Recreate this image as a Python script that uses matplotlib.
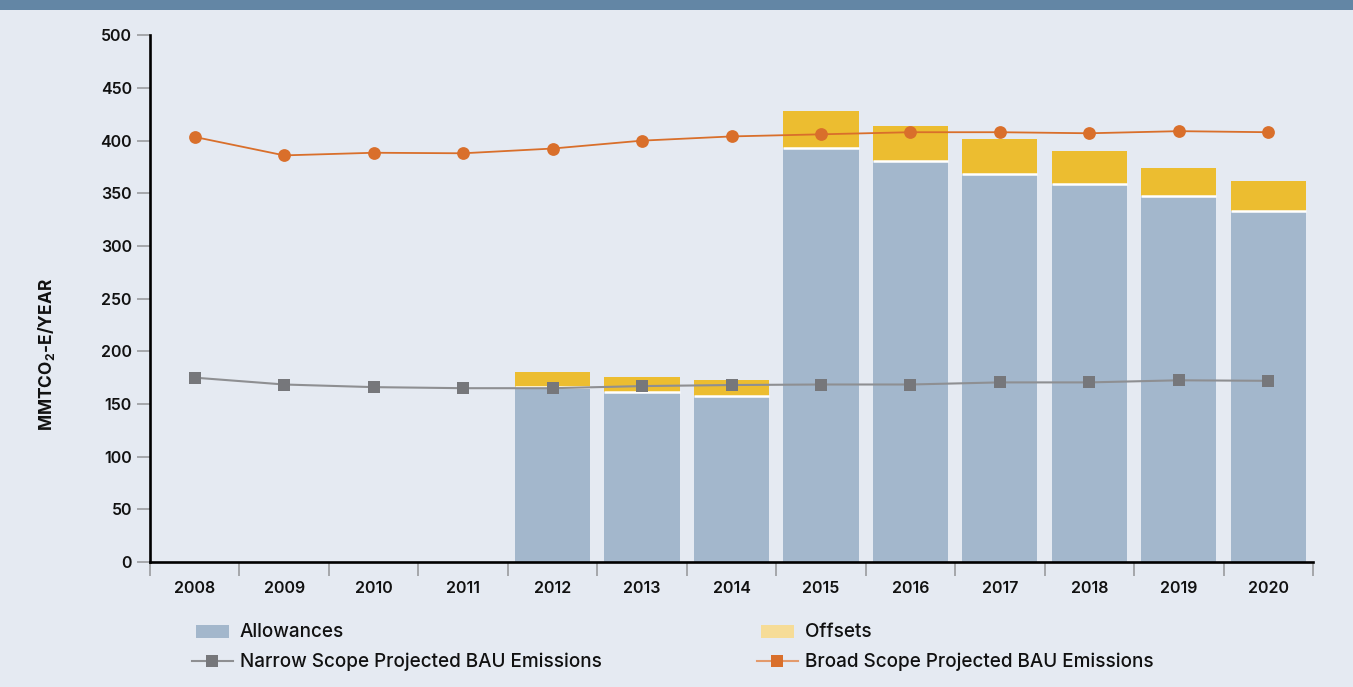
import matplotlib
matplotlib.use("Agg")
import matplotlib.pyplot as plt
import numpy as np
from matplotlib.patches import Rectangle, Patch
from matplotlib.lines import Line2D
from matplotlib.legend_handler import HandlerPatch

# ---- data -------------------------------------------------------------
years = ["2008", "2009", "2010", "2011", "2012", "2013", "2014",
         "2015", "2016", "2017", "2018", "2019", "2020"]
allowances = [0, 0, 0, 0, 166, 161, 158, 393, 381, 368, 359, 347, 333]
offsets = [0, 0, 0, 0, 14.5, 15, 15, 35, 33, 34, 31, 27.5, 28.5]
narrow_bau = [175, 168.5, 166, 165, 165, 167, 168, 168.5, 168.5, 170.5, 170.5, 172.5, 172]
broad_bau = [403.5, 386, 388.5, 388, 392.5, 400, 404, 406, 408, 408, 407, 409, 408]
yticks = [0, 50, 100, 150, 200, 250, 300, 350, 400, 450, 500]

# ---- style ------------------------------------------------------------
BG = "#e5eaf2"
HEADER = "#6386a5"
C_ALLOW = "#a3b7cc"
C_OFFSET = "#ecbd30"
C_OFFSET_KEY = "#f6dc97"
C_ORANGE = "#d96f2b"
C_ORANGE_LINE = "#e39a6c"
C_GRAY = "#76777b"
C_GRAY_LINE = "#8e8f92"
TICK_GRAY = "#9a9b9e"

FONT = ["Inter", "DejaVu Sans"]
plt.rcParams["font.family"] = FONT
plt.rcParams["mathtext.fontset"] = "custom"
plt.rcParams["mathtext.rm"] = "Inter:bold"
plt.rcParams["mathtext.bf"] = "Inter:bold"

W, H = 1353, 687
fig = plt.figure(figsize=(W / 100, H / 100), dpi=100)
fig.patch.set_facecolor(BG)

# header band along the top edge
fig.add_artist(Rectangle((0, 1 - 10 / H), 1, 10 / H, transform=fig.transFigure,
                         facecolor=HEADER, edgecolor="none", zorder=0))

ax = fig.add_axes([150 / W, 1 - 562 / H, (1313 - 150) / W, (562 - 35.3) / H])
ax.set_facecolor(BG)

x = np.arange(len(years))
bar_w = 0.84
ax.bar(x, allowances, width=bar_w, color=C_ALLOW, linewidth=0, zorder=2)
ax.bar(x, offsets, width=bar_w, bottom=allowances, color=C_OFFSET,
       linewidth=0, zorder=2)
# thin white seam where the offsets sit on the allowances
stacked = [i for i, v in enumerate(offsets) if v > 0]
ax.hlines([allowances[i] for i in stacked],
          [x[i] - bar_w / 2 for i in stacked],
          [x[i] + bar_w / 2 for i in stacked],
          colors="white", linewidth=1.8, zorder=3)

ax.plot(x, broad_bau, color=C_ORANGE, linewidth=1.3, marker="o",
        markersize=9.2, markerfacecolor=C_ORANGE, markeredgewidth=0, zorder=4)
ax.plot(x, narrow_bau, color=C_GRAY_LINE, linewidth=1.5, marker="s",
        markersize=9.2, markerfacecolor=C_GRAY, markeredgewidth=0, zorder=4)

ax.set_xlim(-0.5, len(years) - 0.5)
ax.set_ylim(0, 500)

for side in ("top", "right"):
    ax.spines[side].set_visible(False)
for side in ("left", "bottom"):
    ax.spines[side].set_color("black")
    ax.spines[side].set_linewidth(1.9)
    ax.spines[side].set_zorder(5)

ax.set_yticks(yticks)
ax.tick_params(axis="y", length=9.5, width=1.2, color=TICK_GRAY, pad=3.5,
               labelsize=11.5)
ax.set_xticks(x)
ax.set_xticklabels(years)
ax.set_xticks(np.arange(-0.5, len(years)), minor=True)
ax.tick_params(axis="x", which="major", length=0, pad=13.5, labelsize=11.5)
ax.tick_params(axis="x", which="minor", length=10, width=1.2, color=TICK_GRAY)
for lab in ax.get_xticklabels() + ax.get_yticklabels():
    lab.set_fontweight("semibold")
    lab.set_color("#111111")

fig.text(47 / W, 1 - 354 / H, r"MMTCO$_{2}$-E/YEAR", rotation=90,
         ha="center", va="center", fontsize=12.5, fontweight="bold",
         color="#111111")


# ---- legend -----------------------------------------------------------
def key_patch(legend, orig_handle, xdescent, ydescent, width, height, fontsize):
    return Rectangle((-xdescent + width * 0.1, -ydescent - height * 0.05),
                     width * 0.8, height * 0.95)


h_allow = Patch(facecolor=C_ALLOW, edgecolor="none", label="Allowances")
h_offset = Patch(facecolor=C_OFFSET_KEY, edgecolor="none", label="Offsets")
h_narrow = Line2D([], [], color=C_GRAY_LINE, linewidth=1.5, marker="s",
                  markersize=9.2, markerfacecolor=C_GRAY, markeredgewidth=0,
                  label="Narrow Scope Projected BAU Emissions")
h_broad = Line2D([], [], color=C_ORANGE_LINE, linewidth=1.5, marker="s",
                 markersize=9.2, markerfacecolor=C_ORANGE, markeredgewidth=0,
                 label="Broad Scope Projected BAU Emissions")

leg_kw = dict(frameon=False, loc="upper left", fontsize=13.6, handlelength=2.15,
              handletextpad=0.38, labelspacing=0.62, borderpad=0,
              borderaxespad=0, handler_map={Patch: HandlerPatch(patch_func=key_patch)},
              bbox_transform=fig.transFigure)
leg1 = fig.legend(handles=[h_allow, h_narrow], bbox_to_anchor=(192 / W, 1 - 623 / H),
                  **leg_kw)
leg2 = fig.legend(handles=[h_offset, h_broad], bbox_to_anchor=(757 / W, 1 - 623 / H),
                  **leg_kw)
for leg in (leg1, leg2):
    for t in leg.get_texts():
        t.set_color("#111111")
        t.set_fontweight("medium")

fig.savefig("out.png", dpi=100, facecolor=BG)
